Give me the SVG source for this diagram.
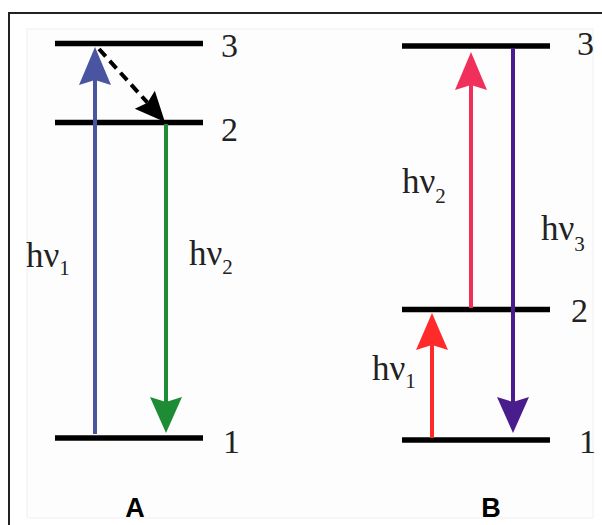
<svg xmlns="http://www.w3.org/2000/svg" width="602" height="525" viewBox="0 0 602 525">
  <style>
    .lvl { stroke: #000; stroke-width: 5.5; }
    .num { font-family: "Liberation Serif", "Times New Roman", serif; font-size: 34px; fill: #222; }
    .hv { font-family: "Liberation Serif", "Times New Roman", serif; font-size: 35px; fill: #222; }
    .sub { font-size: 21px; }
    .panel { font-family: "Liberation Sans", Arial, sans-serif; font-size: 27px; font-weight: bold; fill: #000; text-anchor: middle; }
    .shaft { fill: none; stroke-width: 4; }
  </style>
  <defs>
    <marker id="hBlue" markerUnits="userSpaceOnUse" markerWidth="40" markerHeight="34" viewBox="0 -17 40 34" refX="5" refY="0" orient="auto" overflow="visible">
      <path d="M0,-16 L38,0 L0,16 L5,0 Z" fill="#4a55a2"/>
    </marker>
    <marker id="hGreen" markerUnits="userSpaceOnUse" markerWidth="40" markerHeight="34" viewBox="0 -17 40 34" refX="5" refY="0" orient="auto" overflow="visible">
      <path d="M0,-16 L36,0 L0,16 L5,0 Z" fill="#1e8c34"/>
    </marker>
    <marker id="hPink" markerUnits="userSpaceOnUse" markerWidth="40" markerHeight="34" viewBox="0 -17 40 34" refX="5" refY="0" orient="auto" overflow="visible">
      <path d="M0,-16 L38,0 L0,16 L5,0 Z" fill="#f0305a"/>
    </marker>
    <marker id="hPurple" markerUnits="userSpaceOnUse" markerWidth="40" markerHeight="34" viewBox="0 -17 40 34" refX="5" refY="0" orient="auto" overflow="visible">
      <path d="M0,-16 L36,0 L0,16 L5,0 Z" fill="#4a1d8c"/>
    </marker>
    <marker id="hRed" markerUnits="userSpaceOnUse" markerWidth="40" markerHeight="34" viewBox="0 -17 40 34" refX="5" refY="0" orient="auto" overflow="visible">
      <path d="M0,-16 L37,0 L0,16 L5,0 Z" fill="#ff2b2b"/>
    </marker>
    <marker id="hBlack" markerUnits="userSpaceOnUse" markerWidth="32" markerHeight="30" viewBox="0 -15 32 30" refX="4" refY="0" orient="auto" overflow="visible">
      <path d="M0,-13.5 L30,0 L0,13.5 L4,0 Z" fill="#000"/>
    </marker>
  </defs>

  <rect x="0" y="0" width="602" height="525" fill="#fff"/>
  <rect x="27" y="29" width="566" height="489" fill="#fdfdfd" stroke="#f0f0f0" stroke-width="1"/>
  <path d="M9,525 L9,13 L602,13" fill="none" stroke="#222" stroke-width="2"/>

  <!-- Panel A levels -->
  <g id="A-level3"><line class="lvl" x1="55" y1="43.5" x2="203" y2="43.5"/><text class="num" x="221" y="57">3</text></g>
  <g id="A-level2"><line class="lvl" x1="55" y1="122.5" x2="203" y2="122.5"/><text class="num" x="221" y="141">2</text></g>
  <g id="A-level1"><line class="lvl" x1="55" y1="438" x2="203" y2="438"/><text class="num" x="223" y="453">1</text></g>

  <!-- Panel B levels -->
  <g id="B-level3"><line class="lvl" x1="402" y1="46" x2="550" y2="46"/><text class="num" x="577" y="55">3</text></g>
  <g id="B-level2"><line class="lvl" x1="402" y1="309.5" x2="550" y2="309.5"/><text class="num" x="571" y="322">2</text></g>
  <g id="B-level1"><line class="lvl" x1="402" y1="440" x2="550" y2="440"/><text class="num" x="579" y="453">1</text></g>

  <g id="connectors">
    <line class="shaft" stroke="#4a55a2" x1="95" y1="434" x2="95" y2="80" marker-end="url(#hBlue)"/>
    <line class="shaft" stroke="#1e8c34" x1="166" y1="124" x2="166" y2="402" marker-end="url(#hGreen)"/>
    <line class="shaft" stroke="#000" stroke-dasharray="10 6" x1="99" y1="49" x2="147.5" y2="102.7" marker-end="url(#hBlack)"/>
    <line class="shaft" stroke="#f0305a" x1="471" y1="308" x2="471" y2="85" marker-end="url(#hPink)"/>
    <line class="shaft" stroke="#4a1d8c" x1="513" y1="48" x2="513" y2="402" marker-end="url(#hPurple)"/>
    <line class="shaft" stroke="#ff2b2b" x1="432" y1="438" x2="432" y2="345" marker-end="url(#hRed)"/>
  </g>

  <g id="labels">
    <text class="hv" x="26" y="267">hν<tspan class="sub" dy="8">1</tspan></text>
    <text class="hv" x="189" y="265">hν<tspan class="sub" dy="9">2</tspan></text>
    <text class="hv" x="402" y="193">hν<tspan class="sub" dy="10">2</tspan></text>
    <text class="hv" x="541" y="240">hν<tspan class="sub" dy="11">3</tspan></text>
    <text class="hv" x="372" y="380">hν<tspan class="sub" dy="8">1</tspan></text>
  </g>

  <text class="panel" x="135" y="517">A</text>
  <text class="panel" x="491" y="517">B</text>
</svg>
